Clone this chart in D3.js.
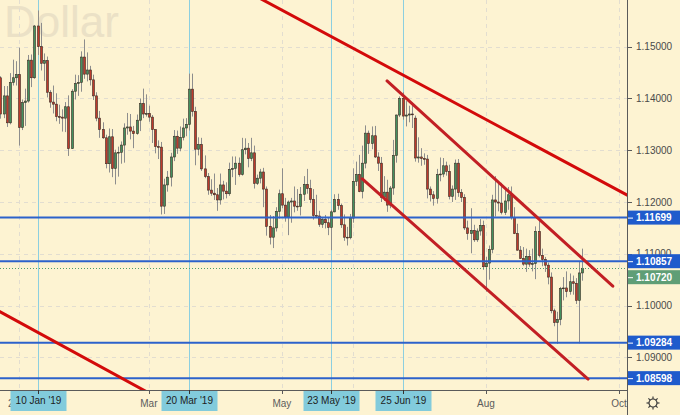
<!DOCTYPE html>
<html lang="en">
<head>
<meta charset="utf-8">
<title>Dollar</title>
<script src="https://cdn.jsdelivr.net/npm/d3@7"></script>
<style>
  html, body { margin: 0; padding: 0; background: #fdf3d2; }
  svg { display: block; font-family: "Liberation Sans", Arial, sans-serif; }
</style>
</head>
<body>
<svg id="chart" width="680" height="415"></svg>
<script>
// daily bars, [open, high, low, close]
var dec18 = [
  [1.1373,1.1472,1.1360,1.1440],[1.1440,1.1443,1.1361,1.1370],[1.1370,1.1424,1.1362,1.1405],
  [1.1405,1.1424,1.1345,1.1353],[1.1353,1.1449,1.1350,1.1431],[1.1431,1.1475,1.1425,1.1440],
  [1.1440,1.1472,1.1425,1.1446]
];
var jan19 = [
  [1.1446,1.1498,1.1309,1.1344],[1.1344,1.1398,1.1339,1.1392],[1.1392,1.1419,1.1347,1.1395],
  [1.1395,1.1484,1.1392,1.1474],[1.1474,1.1485,1.1422,1.1440],[1.1440,1.1542,1.1438,1.1540],
  [1.1540,1.1570,1.1484,1.1500],[1.1500,1.1546,1.1454,1.1468],[1.1468,1.1487,1.1434,1.1473],
  [1.1473,1.1481,1.1402,1.1412],[1.1412,1.1416,1.1382,1.1393],[1.1393,1.1425,1.1371,1.1389],
  [1.1389,1.1410,1.1356,1.1365],[1.1365,1.1388,1.1351,1.1364],[1.1364,1.1379,1.1336,1.1362],
  [1.1362,1.1393,1.1335,1.1384],[1.1384,1.1406,1.1289,1.1303],[1.1303,1.1418,1.1303,1.1414],
  [1.1414,1.1446,1.1398,1.1429],[1.1429,1.1445,1.1405,1.1431],[1.1431,1.1491,1.1413,1.1480],
  [1.1480,1.1514,1.1438,1.1447]
];
var feb19 = [
  [1.1447,1.1489,1.1433,1.1455],[1.1455,1.1463,1.1425,1.1436],[1.1436,1.1446,1.1397,1.1405],
  [1.1405,1.1412,1.1356,1.1362],[1.1362,1.1376,1.1324,1.1340],[1.1340,1.1354,1.1322,1.1324],
  [1.1324,1.1330,1.1265,1.1274],[1.1274,1.1342,1.1257,1.1326],[1.1326,1.1341,1.1248,1.1265],
  [1.1265,1.1301,1.1234,1.1295],[1.1295,1.1307,1.1249,1.1296],[1.1296,1.1317,1.1274,1.1310],
  [1.1310,1.1352,1.1276,1.1343],[1.1343,1.1372,1.1330,1.1345],[1.1345,1.1370,1.1321,1.1337],
  [1.1337,1.1347,1.1304,1.1332],[1.1332,1.1369,1.1330,1.1358],[1.1358,1.1400,1.1337,1.1390],
  [1.1390,1.1419,1.1362,1.1370],[1.1370,1.1408,1.1365,1.1371]
];
var mar19 = [
  [1.1371,1.1386,1.1355,1.1364],[1.1364,1.1368,1.1314,1.1340],[1.1340,1.1340,1.1294,1.1307],
  [1.1307,1.1319,1.1283,1.1306],[1.1306,1.1316,1.1176,1.1192],[1.1192,1.1245,1.1177,1.1233],
  [1.1233,1.1260,1.1220,1.1248],[1.1248,1.1295,1.1230,1.1287],[1.1287,1.1339,1.1279,1.1327],
  [1.1327,1.1338,1.1293,1.1304],[1.1304,1.1346,1.1298,1.1325],[1.1325,1.1361,1.1319,1.1343],
  [1.1343,1.1362,1.1327,1.1350],[1.1350,1.1448,1.1338,1.1418],[1.1418,1.1448,1.1365,1.1375],
  [1.1375,1.1384,1.1271,1.1302],[1.1302,1.1325,1.1290,1.1311],[1.1311,1.1324,1.1260,1.1264],
  [1.1264,1.1290,1.1246,1.1249],[1.1249,1.1256,1.1214,1.1223],[1.1223,1.1244,1.1212,1.1217]
];
var apr19 = [
  [1.1217,1.1255,1.1204,1.1214],[1.1214,1.1227,1.1183,1.1204],[1.1204,1.1255,1.1195,1.1233],
  [1.1233,1.1241,1.1205,1.1221],[1.1221,1.1238,1.1207,1.1216],[1.1216,1.1276,1.1212,1.1263],
  [1.1263,1.1288,1.1248,1.1265],[1.1265,1.1288,1.1233,1.1275],[1.1275,1.1286,1.1249,1.1253],
  [1.1253,1.1324,1.1251,1.1301],[1.1301,1.1323,1.1292,1.1304],[1.1304,1.1314,1.1267,1.1284],
  [1.1284,1.1324,1.1279,1.1295],[1.1295,1.1309,1.1226,1.1236],[1.1236,1.1253,1.1233,1.1246],
  [1.1246,1.1264,1.1236,1.1258],[1.1258,1.1266,1.1190,1.1225],[1.1225,1.1230,1.1135,1.1153],
  [1.1153,1.1175,1.1118,1.1132],[1.1132,1.1173,1.1111,1.1150],[1.1150,1.1190,1.1143,1.1182],
  [1.1182,1.1224,1.1168,1.1216]
];
var may19 = [
  [1.1216,1.1265,1.1188,1.1194],[1.1194,1.1208,1.1162,1.1171],[1.1171,1.1203,1.1136,1.1200],
  [1.1200,1.1208,1.1160,1.1202],[1.1202,1.1230,1.1180,1.1192],[1.1192,1.1225,1.1183,1.1191],
  [1.1191,1.1229,1.1174,1.1215],[1.1215,1.1250,1.1202,1.1234],[1.1234,1.1264,1.1216,1.1226],
  [1.1226,1.1243,1.1198,1.1205],[1.1205,1.1225,1.1166,1.1174],[1.1174,1.1214,1.1169,1.1173],
  [1.1173,1.1183,1.1152,1.1157],[1.1157,1.1171,1.1150,1.1166],[1.1166,1.1175,1.1149,1.1160],
  [1.1160,1.1170,1.1136,1.1151],[1.1151,1.1185,1.1107,1.1181],[1.1181,1.1215,1.1180,1.1205],
  [1.1205,1.1216,1.1185,1.1193],[1.1193,1.1197,1.1150,1.1156],[1.1156,1.1176,1.1125,1.1132],
  [1.1132,1.1152,1.1116,1.1131],[1.1131,1.1177,1.1128,1.1169]
];
var jun19 = [
  [1.1169,1.1265,1.1160,1.1240],[1.1240,1.1278,1.1231,1.1253],[1.1253,1.1291,1.1219,1.1220],
  [1.1220,1.1309,1.1207,1.1275],[1.1275,1.1348,1.1265,1.1333],[1.1333,1.1338,1.1293,1.1313],
  [1.1313,1.1346,1.1302,1.1328],[1.1328,1.1347,1.1285,1.1287],[1.1287,1.1296,1.1260,1.1275],
  [1.1275,1.1287,1.1200,1.1209],[1.1209,1.1250,1.1202,1.1219],[1.1219,1.1243,1.1181,1.1194],
  [1.1194,1.1231,1.1188,1.1227],[1.1227,1.1320,1.1214,1.1290],[1.1290,1.1369,1.1276,1.1368],
  [1.1368,1.1404,1.1364,1.1400],[1.1400,1.1412,1.1359,1.1366],[1.1366,1.1395,1.1346,1.1368],
  [1.1368,1.1386,1.1354,1.1370],[1.1370,1.1392,1.1343,1.1369]
];
var jul19 = [
  [1.1362,1.1367,1.1278,1.1285],[1.1285,1.1325,1.1276,1.1287],[1.1287,1.1304,1.1270,1.1284],
  [1.1284,1.1294,1.1272,1.1283],[1.1283,1.1291,1.1207,1.1225],[1.1225,1.1230,1.1201,1.1214],
  [1.1214,1.1221,1.1193,1.1207],[1.1207,1.1264,1.1197,1.1253],[1.1253,1.1286,1.1240,1.1254],
  [1.1254,1.1285,1.1248,1.1270],[1.1270,1.1278,1.1251,1.1259],[1.1259,1.1272,1.1205,1.1211],
  [1.1211,1.1232,1.1200,1.1225],[1.1225,1.1282,1.1204,1.1275],[1.1275,1.1283,1.1210,1.1218],
  [1.1218,1.1225,1.1200,1.1209],[1.1209,1.1215,1.1146,1.1150],[1.1150,1.1164,1.1127,1.1139],
  [1.1139,1.1188,1.1101,1.1145],[1.1145,1.1156,1.1123,1.1127],[1.1127,1.1149,1.1123,1.1144],
  [1.1144,1.1167,1.1135,1.1155],[1.1155,1.1164,1.1069,1.1075]
];
var aug19 = [
  [1.1075,1.1094,1.1027,1.1082],[1.1082,1.1116,1.1050,1.1108],[1.1108,1.1214,1.1101,1.1204],
  [1.1204,1.1250,1.1172,1.1200],[1.1200,1.1240,1.1182,1.1198],[1.1198,1.1237,1.1176,1.1180],
  [1.1180,1.1226,1.1175,1.1202],[1.1202,1.1229,1.1185,1.1214],[1.1214,1.1230,1.1166,1.1170],
  [1.1170,1.1190,1.1138,1.1139],[1.1139,1.1158,1.1106,1.1107],[1.1107,1.1115,1.1090,1.1091],
  [1.1091,1.1113,1.1077,1.1080],[1.1080,1.1110,1.1065,1.1095],[1.1095,1.1107,1.1075,1.1080],
  [1.1080,1.1110,1.1066,1.1081],[1.1081,1.1153,1.1051,1.1143],[1.1143,1.1165,1.1093,1.1097],
  [1.1097,1.1110,1.1076,1.1089],[1.1089,1.1094,1.1065,1.1078],[1.1078,1.1083,1.1041,1.1055],
  [1.1055,1.1064,1.0985,1.0990]
];
var sep19 = [
  [1.0990,1.0994,1.0960,1.0967],[1.0967,1.0988,1.0926,1.0973],[1.0973,1.1036,1.0962,1.1033],
  [1.1033,1.1055,1.1010,1.1034],[1.1034,1.1066,1.1016,1.1027],[1.1027,1.1062,1.1021,1.1046],
  [1.1046,1.1058,1.1021,1.1043],[1.1043,1.1053,1.1003,1.1010],[1.1010,1.1086,1.0927,1.1063],
  [1.1063,1.1110,1.1048,1.1072]
];

var firstDay = "2018-12-20";
var holidays = ["2018-12-25", "2019-01-01"];

var levels = [1.11699, 1.10857, 1.09284, 1.08598];
var lastPrice = 1.10720;
var priceTicks = [1.09, 1.10, 1.11, 1.12, 1.13, 1.14, 1.15];
var monthTicks = [["2019-01-02","2019"], ["2019-03-01","Mar"], ["2019-05-01","May"],
                  ["2019-06-03",""], ["2019-08-01","Aug"], ["2019-10-01","Oct"]];
var markedDays = [["2019-01-10","10 Jan '19"], ["2019-03-20","20 Mar '19"],
                  ["2019-05-23","23 May '19"], ["2019-06-25","25 Jun '19"]];

// trend lines drawn on the chart, [day, price]
var trendUpper = [["2019-04-22", 1.15931], ["2019-10-07", 1.12089]];
var channelTop = [["2019-06-18", 1.14339], ["2019-09-27", 1.10374]];
var channelBottom = [["2019-06-06", 1.12448], ["2019-09-17", 1.08580]];
var trendLower = [["2018-12-20", 1.09909], ["2019-03-01", 1.08311]];

var W = 680, H = 415, plotW = 627, plotH = 390;

var parse = d3.utcParse("%Y-%m-%d"), fmt = d3.utcFormat("%Y-%m-%d");
var days = d3.utcDays(parse(firstDay), parse("2019-10-20"))
  .filter(function(d) { var w = d.getUTCDay(); return w !== 0 && w !== 6 && holidays.indexOf(fmt(d)) < 0; })
  .map(fmt);
var origin = days.indexOf("2019-01-02");
function idx(s) { return days.indexOf(s) - origin; }

var bars = dec18.concat(jan19, feb19, mar19, apr19, may19, jun19, jul19, aug19, sep19)
  .map(function(r, i) { return { i: i - origin, o: r[0], h: r[1], l: r[2], c: r[3] }; });

var x = d3.scaleLinear().domain([0, 194]).range([19, 619]);
var y = d3.scaleLinear().domain([1.08369, 1.15902]).range([plotH, 0]);
function px(i) { return Math.round(x(i)) + 0.5; }
function py(p) { return Math.round(y(p)) + 0.5; }

var svg = d3.select("#chart");
svg.append("rect").attr("width", W).attr("height", H).attr("fill", "#fdf3d2");

// watermark
svg.append("text").attr("x", 4).attr("y", 37)
  .attr("font-size", 44).attr("fill", "#ebe1c6").text("Dollar");

svg.append("defs").append("clipPath").attr("id", "plot")
  .append("rect").attr("width", plotW).attr("height", plotH);

var plot = svg.append("g").attr("clip-path", "url(#plot)");

// grid
plot.selectAll(".hgrid").data(priceTicks.concat([1.16])).join("line")
  .attr("x1", 0).attr("x2", plotW).attr("y1", py).attr("y2", py)
  .attr("stroke", "#e2ddd0").attr("stroke-dasharray", "4,4");
plot.selectAll(".vgrid").data(monthTicks).join("line")
  .attr("x1", function(d) { return px(idx(d[0])); }).attr("x2", function(d) { return px(idx(d[0])); })
  .attr("y1", 0).attr("y2", plotH)
  .attr("stroke", "#e2ddd0").attr("stroke-dasharray", "4,4");

// marked days
plot.selectAll(".mark").data(markedDays).join("line")
  .attr("x1", function(d) { return px(idx(d[0])); }).attr("x2", function(d) { return px(idx(d[0])); })
  .attr("y1", 0).attr("y2", plotH).attr("stroke", "#8ccfe0");

// candles
plot.selectAll(".wick").data(bars).join("line")
  .attr("x1", function(d) { return px(d.i); }).attr("x2", function(d) { return px(d.i); })
  .attr("y1", function(d) { return y(d.h); }).attr("y2", function(d) { return y(d.l); })
  .attr("stroke", "#8d8d8d");
plot.selectAll(".body").data(bars).join("rect")
  .attr("x", function(d) { return Math.round(x(d.i)) - 0.5; })
  .attr("width", 2)
  .attr("y", function(d) { return y(Math.max(d.o, d.c)); })
  .attr("height", function(d) { return Math.max(0.8, Math.abs(y(d.o) - y(d.c))); })
  .attr("fill", function(d) { return d.c >= d.o ? "#43905f" : "#bd3a2c"; })
  .attr("stroke", "#3a2b22").attr("stroke-width", 0.6);

// horizontal levels
plot.selectAll(".level").data(levels).join("line")
  .attr("x1", 0).attr("x2", plotW).attr("y1", function(d) { return y(d); }).attr("y2", function(d) { return y(d); })
  .attr("stroke", "#2c62cb").attr("stroke-width", 2);

plot.append("line").attr("x1", 0).attr("x2", plotW).attr("y1", py(lastPrice)).attr("y2", py(lastPrice))
  .attr("stroke", "#4f9e6d").attr("stroke-dasharray", "1,2");

// trend lines
var line = d3.line().x(function(d) { return x(idx(d[0])); }).y(function(d) { return y(d[1]); });
[[trendUpper, "#d30a0a"], [trendLower, "#d30a0a"], [channelTop, "#c21f24"], [channelBottom, "#c21f24"]]
  .forEach(function(t) {
    plot.append("path").attr("d", line(t[0])).attr("fill", "none")
      .attr("stroke", t[1]).attr("stroke-width", 3).attr("stroke-linecap", "round");
  });

// axes
svg.append("line").attr("x1", plotW + 0.5).attr("x2", plotW + 0.5).attr("y1", 0).attr("y2", H)
  .attr("stroke", "#5a5a5a");
svg.append("line").attr("x1", 0).attr("x2", plotW).attr("y1", plotH + 0.5).attr("y2", plotH + 0.5)
  .attr("stroke", "#5a5a5a");

var f5 = d3.format(".5f");
var yAxis = svg.append("g");
yAxis.selectAll("line").data(priceTicks).join("line")
  .attr("x1", plotW).attr("x2", plotW + 5).attr("y1", py).attr("y2", py).attr("stroke", "#5a5a5a");
yAxis.selectAll("text").data(priceTicks).join("text")
  .attr("x", 636).attr("y", function(d) { return y(d); }).attr("dy", "0.35em")
  .attr("font-size", 10).attr("fill", "#4a4a4a").text(f5);

// price labels on the axis, pushed apart when they would overlap
var boxes = levels.map(function(p) { return { p: p, color: "#1f5bcc" }; })
  .concat([{ p: lastPrice, color: "#5f9e76" }])
  .sort(function(a, b) { return b.p - a.p; });
var boxH = 14, prevBottom = -Infinity;
boxes.forEach(function(b) {
  b.cy = Math.max(y(b.p), prevBottom + 2 + boxH / 2);
  prevBottom = b.cy + boxH / 2;
});
var boxG = svg.append("g").selectAll("g").data(boxes).join("g")
  .attr("transform", function(d) { return "translate(0," + d.cy + ")"; });
boxG.append("rect").attr("x", plotW + 1).attr("y", -boxH / 2).attr("width", W - plotW - 1).attr("height", boxH)
  .attr("fill", function(d) { return d.color; });
boxG.append("line").attr("x1", plotW + 1).attr("x2", plotW + 6).attr("y1", 0.5).attr("y2", 0.5).attr("stroke", "#fff");
boxG.append("text").attr("x", 636).attr("dy", "0.36em").attr("font-size", 10).attr("font-weight", "bold")
  .attr("fill", "#fff").text(function(d) { return f5(d.p); });

// time axis
var tAxis = svg.append("g");
tAxis.selectAll("line").data(monthTicks).join("line")
  .attr("x1", function(d) { return px(idx(d[0])); }).attr("x2", function(d) { return px(idx(d[0])); })
  .attr("y1", plotH).attr("y2", plotH + 4).attr("stroke", "#5a5a5a");
tAxis.selectAll("text").data(monthTicks).join("text")
  .attr("x", function(d) { return x(idx(d[0])); }).attr("y", 407)
  .attr("text-anchor", "middle").attr("font-size", 10).attr("fill", "#5c5c5c")
  .text(function(d) { return d[1]; });

var marks = svg.append("g").selectAll("g").data(markedDays).join("g")
  .attr("transform", function(d) { return "translate(" + px(idx(d[0])) + ",0)"; });
marks.append("rect").attr("x", -28).attr("y", plotH + 1).attr("width", 56).attr("height", 20).attr("fill", "#82cbdc");
marks.append("line").attr("x1", 0).attr("x2", 0).attr("y1", plotH).attr("y2", plotH + 4).attr("stroke", "#333");
marks.append("text").attr("y", 404).attr("text-anchor", "middle").attr("font-size", 10).attr("fill", "#1d1d1d")
  .text(function(d) { return d[1]; });

// settings gear
var gear = svg.append("g").attr("transform", "translate(653,403)")
  .attr("fill", "none").attr("stroke", "#3c3c3c").attr("stroke-width", 1.2);
gear.append("circle").attr("r", 4);
d3.range(8).forEach(function(k) {
  var a = k * Math.PI / 4;
  gear.append("line").attr("x1", Math.cos(a) * 4).attr("y1", Math.sin(a) * 4)
    .attr("x2", Math.cos(a) * 6.5).attr("y2", Math.sin(a) * 6.5);
});
</script>
</body>
</html>
